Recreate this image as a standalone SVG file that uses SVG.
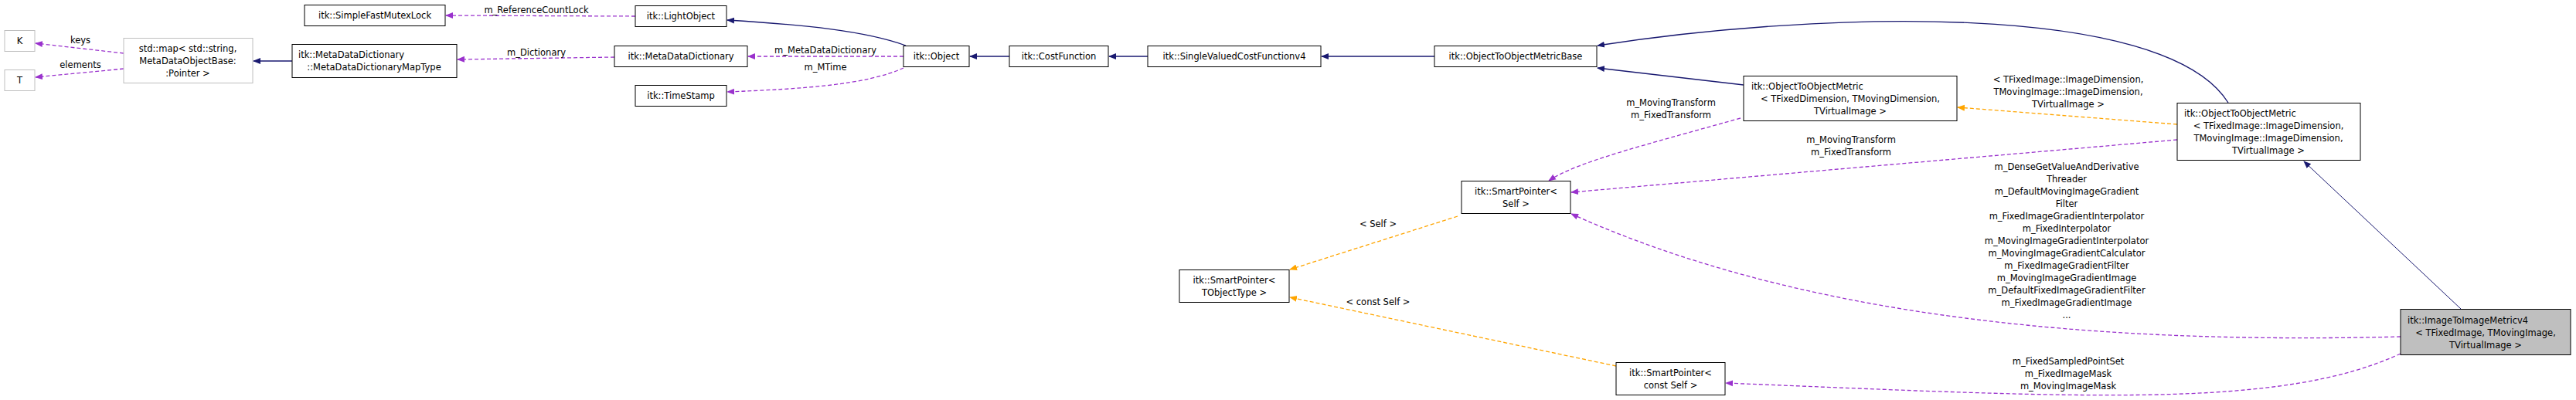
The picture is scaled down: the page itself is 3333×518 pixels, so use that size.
<svg xmlns="http://www.w3.org/2000/svg" width="3333" height="518" viewBox="0 0 3333 518">
<style>
text{font-family:"DejaVu Sans","Liberation Sans",sans-serif;font-size:11.5px;fill:#000}
.c{text-anchor:middle}
.n rect{fill:#fff;stroke:#000;stroke-width:1}
.g rect{fill:#fff;stroke:#bfbfbf;stroke-width:1}
.inh{fill:none;stroke:#191970;stroke-width:1.3}
.use{fill:none;stroke:#9a32cd;stroke-width:1.3;stroke-dasharray:5,3}
.tpl{fill:none;stroke:#ffa500;stroke-width:1.3;stroke-dasharray:5,3}
</style>
<defs>
<marker id="ai" markerWidth="10" markerHeight="10" refX="9" refY="5" orient="auto" markerUnits="userSpaceOnUse"><path d="M0,1 L10,5 L0,9 Z" fill="#191970"/></marker>
<marker id="au" markerWidth="10" markerHeight="10" refX="9" refY="5" orient="auto" markerUnits="userSpaceOnUse"><path d="M0,1 L10,5 L0,9 Z" fill="#9a32cd"/></marker>
<marker id="at" markerWidth="10" markerHeight="10" refX="9" refY="5" orient="auto" markerUnits="userSpaceOnUse"><path d="M0,1 L10,5 L0,9 Z" fill="#ffa500"/></marker>
</defs>
<g id="connectors">
<path class="use" marker-end="url(#au)" d="M822,21 L577,20"/>
<path class="inh" marker-end="url(#ai)" d="M1172,59 C1120,40 1040,32 941,26"/>
<path class="use" marker-end="url(#au)" d="M1169,73 L968,73"/>
<path class="use" marker-end="url(#au)" d="M1169,88 C1120,110 1040,115 941,119"/>
<path class="use" marker-end="url(#au)" d="M795,74 L592,77"/>
<path class="inh" marker-end="url(#ai)" d="M378,79 L328,79"/>
<path class="use" marker-end="url(#au)" d="M160,69 L46,56"/>
<path class="use" marker-end="url(#au)" d="M160,89 L46,100"/>
<path class="inh" marker-end="url(#ai)" d="M1306,73 L1255,73"/>
<path class="inh" marker-end="url(#ai)" d="M1485,73 L1435,73"/>
<path class="inh" marker-end="url(#ai)" d="M1856,73 L1710,73"/>
<path class="inh" marker-end="url(#ai)" d="M2256,110 L2067,88"/>
<path class="inh" marker-end="url(#ai)" d="M2883,133 C2800,0 2350,15 2067,59"/>
<path class="tpl" marker-end="url(#at)" d="M2817,161 L2533,139"/>
<path class="use" marker-end="url(#au)" d="M2817,181 L2033,249"/>
<path class="use" marker-end="url(#au)" d="M2252,153 C2120,190 2040,210 2004,234"/>
<path class="inh" marker-end="url(#ai)" style="stroke-width:1" d="M3184,400 L2981,209"/>
<path class="use" marker-end="url(#au)" d="M3106,436 C2750,445 2350,420 2033,277"/>
<path class="use" marker-end="url(#au)" d="M3106,458 C2950,530 2700,515 2233,496"/>
<path class="tpl" marker-end="url(#at)" d="M1886,280 L1669,349"/>
<path class="tpl" marker-end="url(#at)" d="M2091,474 L1669,385"/>
<text x="694" y="17" class="c">m_ReferenceCountLock</text>
<text x="694" y="72" class="c">m_Dictionary</text>
<text x="1068" y="69" class="c">m_MetaDataDictionary</text>
<text x="1068" y="91" class="c">m_MTime</text>
<text x="104" y="56" class="c">keys</text>
<text x="104" y="88" class="c">elements</text>
<g class="c">
<text x="2676" y="107">&lt; TFixedImage::ImageDimension,</text>
<text x="2676" y="123">TMovingImage::ImageDimension,</text>
<text x="2676" y="139">TVirtualImage &gt;</text>
<text x="2162" y="137">m_MovingTransform</text>
<text x="2162" y="153">m_FixedTransform</text>
<text x="2395" y="185">m_MovingTransform</text>
<text x="2395" y="201">m_FixedTransform</text>
<text x="2674" y="220">m_DenseGetValueAndDerivative</text>
<text x="2674" y="236">Threader</text>
<text x="2674" y="252">m_DefaultMovingImageGradient</text>
<text x="2674" y="268">Filter</text>
<text x="2674" y="284">m_FixedImageGradientInterpolator</text>
<text x="2674" y="300">m_FixedInterpolator</text>
<text x="2674" y="316">m_MovingImageGradientInterpolator</text>
<text x="2674" y="332">m_MovingImageGradientCalculator</text>
<text x="2674" y="348">m_FixedImageGradientFilter</text>
<text x="2674" y="364">m_MovingImageGradientImage</text>
<text x="2674" y="380">m_DefaultFixedImageGradientFilter</text>
<text x="2674" y="396">m_FixedImageGradientImage</text>
<text x="2674" y="412">...</text>
<text x="1783" y="294">&lt; Self &gt;</text>
<text x="1783" y="395">&lt; const Self &gt;</text>
<text x="2676" y="472">m_FixedSampledPointSet</text>
<text x="2676" y="488">m_FixedImageMask</text>
<text x="2676" y="504">m_MovingImageMask</text>
</g>
</g>
<g id="SimpleFastMutexLock" class="n"><rect x="394" y="6.5" width="182" height="27"/><text x="485" y="24" class="c">itk::SimpleFastMutexLock</text></g>
<g id="LightObject" class="n"><rect x="822" y="7.5" width="118" height="27"/><text x="881" y="25" class="c">itk::LightObject</text></g>
<g id="K" class="g"><rect x="6" y="39.5" width="39" height="27"/><text x="25.5" y="57" class="c">K</text></g>
<g id="T" class="g"><rect x="6" y="90.5" width="39" height="27"/><text x="25.5" y="108" class="c">T</text></g>
<g id="StdMap" class="g"><rect x="160" y="49.5" width="167" height="58"/><text x="243" y="67" class="c">std::map&lt; std::string,</text><text x="243" y="83" class="c">MetaDataObjectBase:</text><text x="243" y="99" class="c">:Pointer &gt;</text></g>
<g id="MapType" class="n"><rect x="378" y="57.5" width="213" height="43"/><text x="386" y="75">itk::MetaDataDictionary</text><text x="484" y="91" class="c">::MetaDataDictionaryMapType</text></g>
<g id="MetaDataDictionary" class="n"><rect x="795" y="59.5" width="172" height="27"/><text x="881" y="77" class="c">itk::MetaDataDictionary</text></g>
<g id="TimeStamp" class="n"><rect x="822" y="110.5" width="118" height="27"/><text x="881" y="128" class="c">itk::TimeStamp</text></g>
<g id="Object" class="n"><rect x="1169" y="59.5" width="85" height="27"/><text x="1211.5" y="77" class="c">itk::Object</text></g>
<g id="CostFunction" class="n"><rect x="1306" y="59.5" width="128" height="27"/><text x="1370" y="77" class="c">itk::CostFunction</text></g>
<g id="SingleValuedCostFunctionv4" class="n"><rect x="1485" y="59.5" width="224" height="27"/><text x="1597" y="77" class="c">itk::SingleValuedCostFunctionv4</text></g>
<g id="ObjectToObjectMetricBase" class="n"><rect x="1856" y="59.5" width="210" height="27"/><text x="1961" y="77" class="c">itk::ObjectToObjectMetricBase</text></g>
<g id="ObjectToObjectMetric" class="n"><rect x="2256" y="98.5" width="276" height="58"/><text x="2266" y="116">itk::ObjectToObjectMetric</text><text x="2394" y="132" class="c">&lt; TFixedDimension, TMovingDimension,</text><text x="2394" y="148" class="c">TVirtualImage &gt;</text></g>
<g id="ObjectToObjectMetricImage" class="n"><rect x="2817" y="133.5" width="237" height="74"/><text x="2826" y="151">itk::ObjectToObjectMetric</text><text x="2935" y="167" class="c">&lt; TFixedImage::ImageDimension,</text><text x="2935" y="183" class="c">TMovingImage::ImageDimension,</text><text x="2935" y="199" class="c">TVirtualImage &gt;</text></g>
<g id="SmartPointerSelf" class="n"><rect x="1891" y="234.5" width="141" height="42"/><text x="1961.5" y="252" class="c">itk::SmartPointer&lt;</text><text x="1961.5" y="268" class="c">Self &gt;</text></g>
<g id="SmartPointerTObjectType" class="n"><rect x="1526" y="349.5" width="142" height="42"/><text x="1597" y="367" class="c">itk::SmartPointer&lt;</text><text x="1597" y="383" class="c">TObjectType &gt;</text></g>
<g id="SmartPointerConstSelf" class="n"><rect x="2091" y="469.5" width="141" height="42"/><text x="2161.5" y="487" class="c">itk::SmartPointer&lt;</text><text x="2161.5" y="503" class="c">const Self &gt;</text></g>
<g id="ImageToImageMetricv4" class="n"><rect x="3106" y="400.5" width="220" height="59" style="fill:#bfbfbf"/><text x="3115" y="419">itk::ImageToImageMetricv4</text><text x="3216" y="435" class="c">&lt; TFixedImage, TMovingImage,</text><text x="3216" y="451" class="c">TVirtualImage &gt;</text></g>
</svg>
